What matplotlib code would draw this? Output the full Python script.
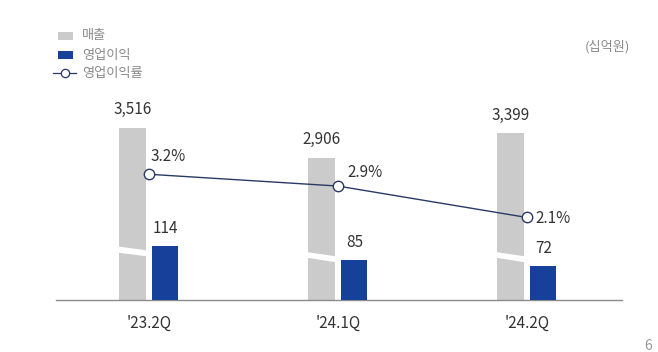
import matplotlib
matplotlib.use("Agg")
import matplotlib.pyplot as plt
from matplotlib.patches import Polygon, Rectangle
from matplotlib.lines import Line2D
import matplotlib.transforms as mtransforms

plt.rcParams['font.family'] = ['Noto Sans CJK KR', 'DejaVu Sans']
plt.rcParams['font.weight'] = 'light'

categories = ["'23.2Q", "'24.1Q", "'24.2Q"]
sales = [3516, 2906, 3399]
op_profit = [114, 85, 72]
op_margin = [3.2, 2.9, 2.1]
legend_labels = ["매출", "영업이익", "영업이익률"]
unit_label = "(십억원)"

GRAY = "#cbcbcb"
BLUE = "#16409a"
NAVY = "#2a3a66"
TXT = "#333333"
LEG = "#8a8a8a"

W, H = 658, 352
fig = plt.figure(figsize=(W / 100, H / 100), dpi=100)
left, right, base, top = 62, 622, 300, 100
rect = [left / W, (H - base) / H, (right - left) / W, (base - top) / H]
ax = fig.add_axes(rect)
ax2 = ax.twinx()
ax3 = ax.twinx()
for a in (ax, ax2, ax3):
    a.set_axis_off()

x = list(range(len(categories)))
bw = 0.138
off = 0.087
ax.set_xlim(-0.46, 2.503)
ax.set_ylim(0, 4080)
ax2.set_ylim(0, 421)
ax3.set_ylim(0, 5.09)

gx = [i - off for i in x]
bx = [i + off for i in x]
ax.bar(gx, sales, width=bw, color=GRAY, zorder=1)
ax2.bar(bx, op_profit, width=bw, color=BLUE, zorder=2)

# break marks on the gray bars
trans = mtransforms.blended_transform_factory(ax.transData, ax.transAxes)
breaks = [(0.237, 0.268, 0.218, 0.248), (0.212, 0.24, 0.188, 0.218), (0.212, 0.24, 0.188, 0.218)]
for gxi, (lb, lt, rb, rt) in zip(gx, breaks):
    x0 = gxi - bw / 2 - 0.01
    x1 = gxi + bw / 2 + 0.01
    poly = Polygon([(x0, lb), (x1, rb), (x1, rt), (x0, lt)], closed=True,
                   transform=trans, facecolor="white", edgecolor="none", zorder=1.5)
    ax.add_patch(poly)

# axis baseline
ax.plot([-0.49, 2.503], [0, 0], color="#8c8c8c", lw=1.0, clip_on=False, zorder=3)

# margin line
ax3.plot(x, op_margin, color=NAVY, lw=1.0, marker="o", markersize=7.5,
         markerfacecolor="white", markeredgecolor=NAVY, markeredgewidth=1.0, zorder=5)

# labels
fs = 11
for xi, v in zip(gx, sales):
    ax.annotate(f"{v:,}", (xi, v), xytext=(0, 13), textcoords="offset points",
                ha="center", va="center", fontsize=fs, color=TXT)
for xi, v in zip(bx, op_profit):
    ax2.annotate(f"{v}", (xi, v), xytext=(0, 12.5), textcoords="offset points",
                 ha="center", va="center", fontsize=fs, color=TXT)
pct_offsets = [(1, 13), (7, 10), (6, -1)]
for xi, v, (dx, dy) in zip(x, op_margin, pct_offsets):
    ax3.annotate(f"{v}%", (xi, v), xytext=(dx, dy), textcoords="offset points",
                 ha="left", va="center", fontsize=fs, color=TXT)
for xi, c in zip(x, categories):
    ax.annotate(c, (xi, 0), xytext=(0, -16.5), textcoords="offset points",
                ha="center", va="center", fontsize=fs, color=TXT)

# legend (manual)
fig.patches.append(Rectangle((58 / W, 1 - 40 / H), 15 / W, 8 / H, transform=fig.transFigure,
                             facecolor=GRAY, edgecolor="none"))
fig.patches.append(Rectangle((58 / W, 1 - 59 / H), 15 / W, 8 / H, transform=fig.transFigure,
                             facecolor=BLUE, edgecolor="none"))
fig.lines.append(Line2D([53 / W, 76 / W], [1 - 73 / H, 1 - 73 / H], transform=fig.transFigure,
                        color=NAVY, lw=0.9))
fig.lines.append(Line2D([64.5 / W], [1 - 73 / H], transform=fig.transFigure,
                        color=NAVY, marker="o", markersize=6, markerfacecolor="white",
                        markeredgecolor=NAVY, markeredgewidth=0.9, linestyle="none"))
for yy, lab in zip([36, 55, 73], legend_labels):
    fig.text(82 / W, 1 - yy / H, lab, fontsize=9.5, color=LEG, ha="left", va="center")
fig.text(607 / W, 1 - 47 / H, unit_label, fontsize=9.5, color=LEG, ha="center", va="center")
fig.text(648 / W, 1 - 346 / H, "6", fontsize=10, color="#999999", ha="center", va="center")

fig.savefig("out.png", dpi=100)
